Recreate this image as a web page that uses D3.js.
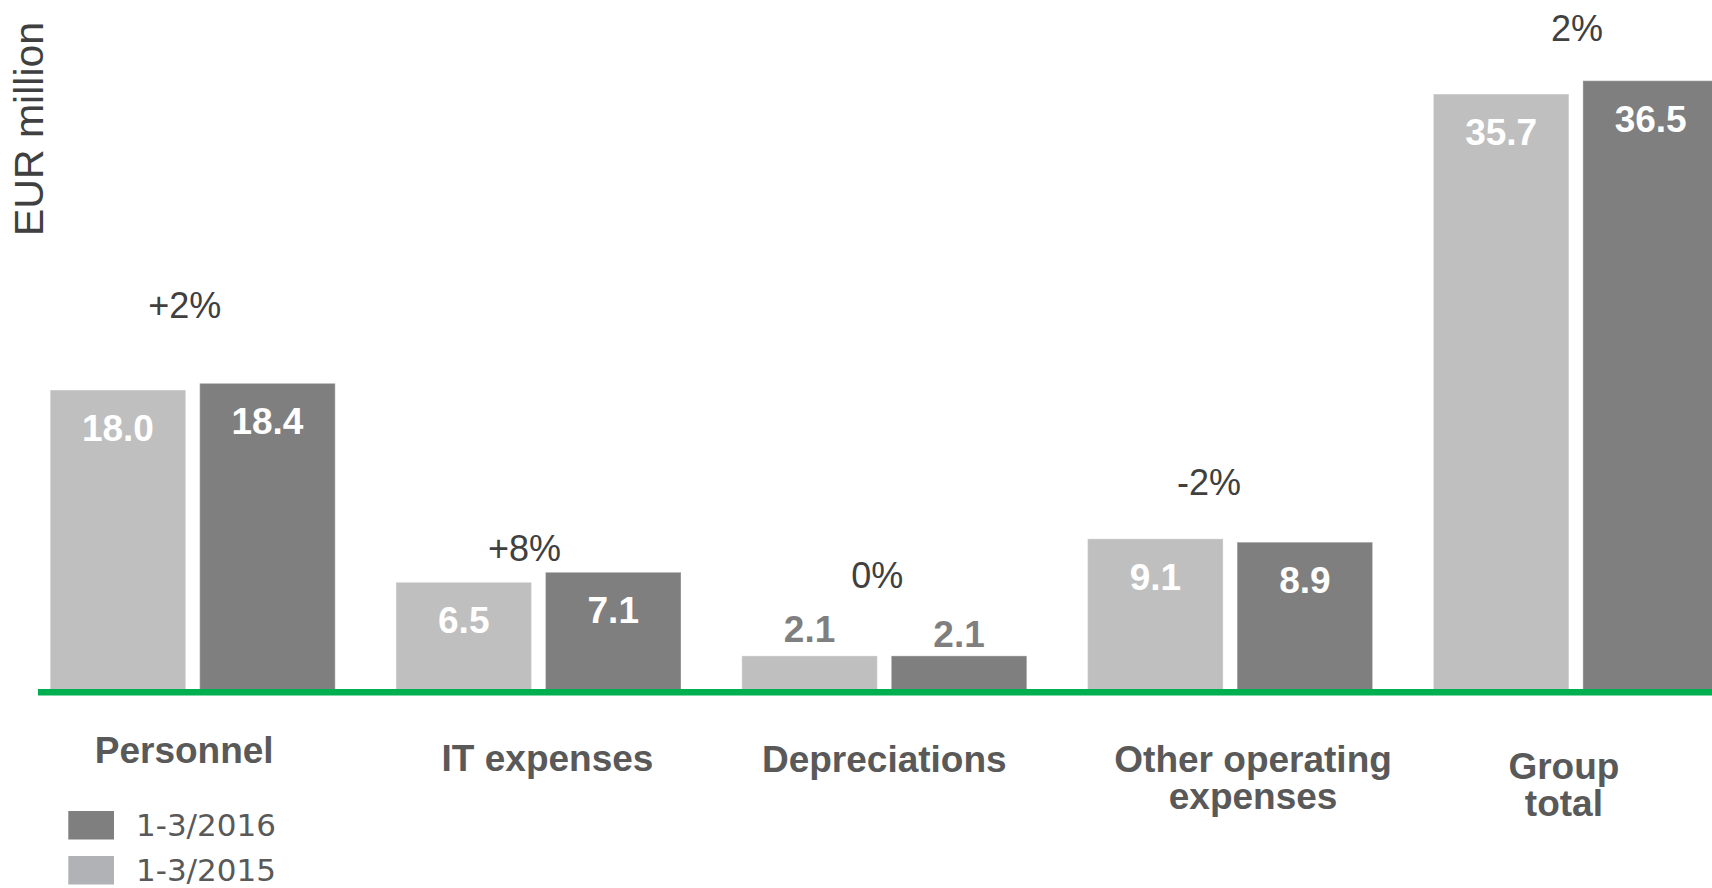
<!DOCTYPE html>
<html><head><meta charset="utf-8">
<script src="https://cdn.jsdelivr.net/npm/d3@7"></script>
<style>html,body{margin:0;padding:0;background:#fff;overflow:hidden}</style>
</head><body>
<svg id="chart" width="1712" height="888"></svg>
<script>
// ---------- data ----------
const categories = ["Personnel", "IT expenses", "Depreciations", "Other operating expenses", "Group total"];
const categoryLines = [["Personnel"], ["IT expenses"], ["Depreciations"], ["Other operating", "expenses"], ["Group", "total"]];
const seriesNames = ["1-3/2015", "1-3/2016"];
const values2015 = [18.0, 6.5, 2.1, 9.1, 35.7];
const values2016 = [18.4, 7.1, 2.1, 8.9, 36.5];
const changeLabels = ["+2%", "+8%", "0%", "-2%", "2%"];
const legendOrder = ["1-3/2016", "1-3/2015"];
const axisTitle = "EUR million";

// ---------- layout ----------
const pctDx = [-8, -14, -7, -21, 1];
const pctLift = [65, 11, 68, 44, 40];
const catDx = [-8.5, 9, 0, 23, -12];
const catY = [762.7, 770.5, 771.7, 771.7, 778.5];

const svg = d3.select("#chart");
svg.append("rect").attr("width", 1712).attr("height", 888).attr("fill", "#fff");

const x = d3.scaleBand().domain(categories).range([50.2, 1718.4]).paddingInner(0.1758).paddingOuter(0);
const xs = d3.scaleBand().domain(seriesNames).range([0, x.bandwidth()]).paddingInner(0.0936);
const y = d3.scaleLinear().domain([0, 36.5]).range([691, 80.7]);
const fill = d3.scaleOrdinal().domain(seriesNames).range(["#bfbfbf", "#7f7f7f"]);
const legendFill = d3.scaleOrdinal().domain(legendOrder).range(["#7f7f7f", "#b1b2b6"]);

const rows = categories.map((c, i) => ({
  cat: c, i,
  vals: [{ s: seriesNames[0], v: values2015[i] }, { s: seriesNames[1], v: values2016[i] }]
}));

const fmt = d3.format(".1f");

// bars
const g = svg.append("g").selectAll("g.grp").data(rows).join("g")
  .attr("class", "grp").attr("transform", d => `translate(${x(d.cat)},0)`);

g.selectAll("rect").data(d => d.vals).join("rect")
  .attr("x", d => xs(d.s)).attr("width", xs.bandwidth())
  .attr("y", d => y(d.v)).attr("height", d => y(0) - y(d.v))
  .attr("fill", d => fill(d.s))
  .attr("stroke", "#ffffff").attr("stroke-opacity", 0.3).attr("stroke-width", 1.2);

// value labels
g.selectAll("text.val").data(d => d.vals).join("text")
  .attr("class", "val")
  .attr("x", d => xs(d.s) + xs.bandwidth() / 2)
  .attr("y", d => {
    const inside = y(0) - y(d.v) > 60;
    if (inside) return y(d.v) + 51;
    return y(d.v) - (d.s === seriesNames[0] ? 14 : 9);
  })
  .attr("text-anchor", "middle")
  .attr("font-family", "'Liberation Sans', Arial, sans-serif")
  .attr("font-weight", "bold").attr("font-size", 37)
  .attr("fill", d => (y(0) - y(d.v) > 60) ? "#ffffff" : "#7f7f7f")
  .text(d => fmt(d.v));

// percent change labels
svg.append("g").selectAll("text").data(rows).join("text")
  .attr("x", d => x(d.cat) + x.bandwidth() / 2 + pctDx[d.i])
  .attr("y", d => y(d3.max(d.vals, v => v.v)) - pctLift[d.i])
  .attr("text-anchor", "middle")
  .attr("font-family", "'Liberation Sans', Arial, sans-serif")
  .attr("font-size", 36).attr("fill", "#404040")
  .text(d => changeLabels[d.i]);

// baseline (green)
svg.append("line")
  .attr("x1", 38).attr("x2", 1712)
  .attr("y1", y(0) + 1.3).attr("y2", y(0) + 1.3)
  .attr("stroke", "#00b050").attr("stroke-width", 6.5);

// category labels
const cl = svg.append("g").selectAll("text").data(rows).join("text")
  .attr("text-anchor", "middle")
  .attr("font-family", "'Liberation Sans', Arial, sans-serif")
  .attr("font-weight", "bold").attr("font-size", 37)
  .attr("fill", "#595959");
cl.selectAll("tspan").data(d => categoryLines[d.i].map((t, k) => ({ t, k, d }))).join("tspan")
  .attr("x", o => x(o.d.cat) + x.bandwidth() / 2 + catDx[o.d.i])
  .attr("y", o => catY[o.d.i] + o.k * 37)
  .text(o => o.t);

// axis title
svg.append("text")
  .attr("transform", "translate(43.3,236) rotate(-90)")
  .attr("font-family", "'Liberation Sans', Arial, sans-serif")
  .attr("font-size", 41).attr("fill", "#404040")
  .text(axisTitle);

// legend
const lg = svg.append("g").selectAll("g").data(legendOrder).join("g")
  .attr("transform", (d, k) => `translate(68.3,${811 + k * 45})`);
lg.append("rect").attr("width", 45.7).attr("height", 28.5).attr("fill", d => legendFill(d));
lg.append("text").attr("x", 67.7).attr("y", 24.5)
  .attr("font-family", "'DejaVu Sans', Verdana, sans-serif")
  .attr("font-size", 31).attr("fill", "#595959")
  .text(d => d);
</script>
</body></html>
